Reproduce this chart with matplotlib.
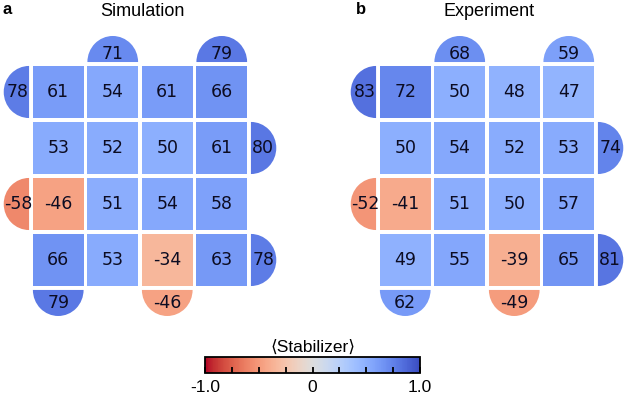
import numpy as np
import matplotlib
matplotlib.use('Agg')
import matplotlib.pyplot as plt
from matplotlib.patches import Rectangle, Wedge
from matplotlib.colors import Normalize
from matplotlib.cm import ScalarMappable

# stabilizer values (x100)
sim_bulk = [[61, 54, 61, 66],
            [53, 52, 50, 61],
            [-46, 51, 54, 58],
            [66, 53, -34, 63]]
sim_top = [71, 79]      # columns 1, 3
sim_bottom = [79, -46]  # columns 0, 2
sim_left = [78, -58]    # rows 0, 2
sim_right = [80, 78]    # rows 1, 3

exp_bulk = [[72, 50, 48, 47],
            [50, 54, 52, 53],
            [-41, 51, 50, 57],
            [49, 55, -39, 65]]
exp_top = [68, 59]
exp_bottom = [62, -49]
exp_left = [83, -52]
exp_right = [74, 81]

top_cols = [1, 3]
bottom_cols = [0, 2]
left_rows = [0, 2]
right_rows = [1, 3]

cmap = plt.get_cmap('coolwarm_r')
norm = Normalize(-1, 1)
g = 0.07
r = (1 - g) / 2
txt_kw = dict(ha='center', va='center', fontsize=12.5, color='#0c0c22',
              family='DejaVu Sans')


def draw_code(ax, bulk, top, bottom, left, right):
    for row in range(4):
        for col in range(4):
            v = bulk[row][col]
            y0 = 3 - row
            ax.add_patch(Rectangle((col + g / 2, y0 + g / 2), 1 - g, 1 - g,
                                   facecolor=cmap(norm(v / 100)), edgecolor='none'))
            ax.text(col + 0.5, y0 + 0.5, str(v), **txt_kw)
    for c, v in zip(top_cols, top):
        ax.add_patch(Wedge((c + 0.5, 4 + g / 2), r, 0, 180,
                           facecolor=cmap(norm(v / 100)), edgecolor='none'))
        ax.text(c + 0.5, 4 + 0.17, str(v), **txt_kw)
    for c, v in zip(bottom_cols, bottom):
        ax.add_patch(Wedge((c + 0.5, -g / 2), r, 180, 360,
                           facecolor=cmap(norm(v / 100)), edgecolor='none'))
        ax.text(c + 0.5, -0.26, str(v), **txt_kw)
    for rw, v in zip(left_rows, left):
        ax.add_patch(Wedge((-g / 2, 3.5 - rw), r, 90, 270,
                           facecolor=cmap(norm(v / 100)), edgecolor='none'))
        ax.text(-0.24, 3.5 - rw, str(v), **txt_kw)
    for rw, v in zip(right_rows, right):
        ax.add_patch(Wedge((4 + g / 2, 3.5 - rw), r, -90, 90,
                           facecolor=cmap(norm(v / 100)), edgecolor='none'))
        ax.text(4 + 0.26, 3.5 - rw, str(v), **txt_kw)
    ax.set_xlim(-0.55, 4.55)
    ax.set_ylim(-0.55, 4.55)
    ax.axis('off')


fig = plt.figure(figsize=(6.24, 3.97), dpi=100)

ax1 = fig.add_axes([1 / 624, 0.197, 278 / 624, 0.7194])
ax2 = fig.add_axes([348 / 624, 0.197, 278 / 624, 0.7194])
draw_code(ax1, sim_bulk, sim_top, sim_bottom, sim_left, sim_right)
draw_code(ax2, exp_bulk, exp_top, exp_bottom, exp_left, exp_right)

fig.text(142 / 624, 1 - 11 / 397, 'Simulation', ha='center', va='center',
         fontsize=13, family='Liberation Sans')
fig.text(489 / 624, 1 - 11 / 397, 'Experiment', ha='center', va='center',
         fontsize=13, family='Liberation Sans')
fig.text(7 / 624, 1 - 10 / 397, 'a', ha='center', va='center',
         fontsize=12, fontweight='bold', family='Liberation Sans')
fig.text(361 / 624, 1 - 10 / 397, 'b', ha='center', va='center',
         fontsize=12, fontweight='bold', family='Liberation Sans')

# colorbar
cax = fig.add_axes([205 / 624, (397 - 373) / 397, 215 / 624, 16 / 397])
cb = fig.colorbar(ScalarMappable(norm=norm, cmap='coolwarm_r'), cax=cax,
                  orientation='horizontal')
cb.set_ticks(np.arange(-1, 1.01, 0.25))
cb.set_ticklabels(['-1.0', '', '', '', '0', '', '', '', '1.0'])
cax.tick_params(direction='in', length=4, width=1.3, pad=5, labelsize=12.5)
for lab in cax.get_xticklabels():
    lab.set_family('Liberation Sans')
cb.outline.set_linewidth(1.3)
cax.set_title('\u27e8Stabilizer\u27e9', fontsize=12.5, pad=4,
              family=['Liberation Sans', 'DejaVu Sans'])

fig.savefig('out.png', dpi=100)
